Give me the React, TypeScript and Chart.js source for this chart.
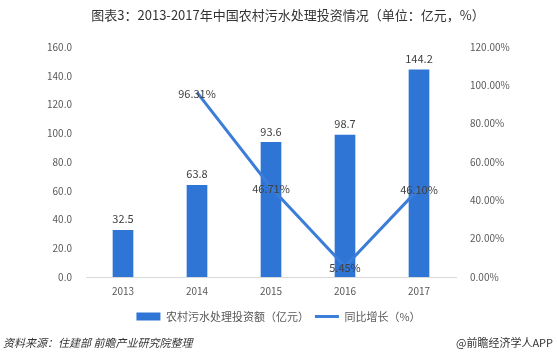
import React, { useEffect, useRef } from "react";
import { Chart, registerables } from "chart.js";

Chart.register(...registerables);

const years = ["2013", "2014", "2015", "2016", "2017"];
const investment = [32.5, 63.8, 93.6, 98.7, 144.2];
const growth: (number | null)[] = [null, 96.31, 46.71, 5.45, 46.1];
const leftTicks = [0, 20, 40, 60, 80, 100, 120, 140, 160];
const rightTicks = [0, 20, 40, 60, 80, 100, 120];

const titleText = "图表3：2013-2017年中国农村污水处理投资情况（单位：亿元，%）";
const sourceText = "资料来源：住建部 前瞻产业研究院整理";
const brandText = "@前瞻经济学人APP";
const barLabel = "农村污水处理投资额（亿元）";
const lineLabel = "同比增长（%）";

const FONT = "'Microsoft YaHei', 'Noto Sans CJK SC', sans-serif";
const BLUE = "#2e75d6";

const textPlugin = {
  id: "textPlugin",
  afterDatasetsDraw(chart: any) {
    const ctx = chart.ctx;
    ctx.save();
    ctx.font = `11px ${FONT}`;
    ctx.fillStyle = "#404040";
    ctx.textAlign = "center";
    ctx.textBaseline = "middle";
    const barMeta = chart.getDatasetMeta(0);
    barMeta.data.forEach((el: any, i: number) => {
      ctx.fillText(investment[i].toFixed(1), el.x, el.y - 11);
    });
    const lineMeta = chart.getDatasetMeta(1);
    lineMeta.data.forEach((el: any, i: number) => {
      const v = growth[i];
      if (v === null) return;
      ctx.fillText(v.toFixed(2) + "%", el.x, el.y + 1);
    });
    ctx.restore();
  },
  afterDraw(chart: any) {
    const ctx = chart.ctx;
    ctx.save();
    ctx.fillStyle = "#333333";
    ctx.textBaseline = "middle";
    ctx.textAlign = "center";
    ctx.font = `13px ${FONT}`;
    ctx.fillText(titleText, 288, 15);
    ctx.textAlign = "left";
    ctx.font = `italic 11px ${FONT}`;
    ctx.fillText(sourceText, 3, 343);
    ctx.textAlign = "right";
    ctx.font = `11px ${FONT}`;
    ctx.fillText(brandText, 553, 343);
    ctx.restore();
  },
};

export default function App() {
  const ref = useRef<HTMLCanvasElement>(null);
  useEffect(() => {
    if (!ref.current) return;
    const chart = new Chart(ref.current, {
      type: "bar",
      data: {
        labels: years,
        datasets: [
          {
            type: "bar",
            label: barLabel,
            data: investment,
            backgroundColor: BLUE,
            borderWidth: 0,
            barThickness: 20,
            yAxisID: "y",
            order: 2,
            pointStyle: "rect",
          } as any,
          {
            type: "line",
            label: lineLabel,
            data: growth,
            borderColor: "#3b7dd8",
            backgroundColor: "#3b7dd8",
            borderWidth: 3,
            pointRadius: 0,
            tension: 0,
            yAxisID: "y1",
            order: 1,
            pointStyle: "line",
          } as any,
        ],
      },
      options: {
        animation: false,
        responsive: false,
        maintainAspectRatio: false,
        layout: { padding: { top: 47, bottom: 24, left: 0, right: 0 } },
        plugins: {
          title: { display: false },
          tooltip: { enabled: false },
          legend: {
            position: "bottom",
            labels: {
              usePointStyle: true,
              pointStyleWidth: 24,
              boxHeight: 8,
              boxWidth: 24,
              color: "#595959",
              font: { size: 11, family: FONT },
              padding: 6,
              sort: (a: any, b: any) => a.datasetIndex - b.datasetIndex,
            },
          },
        },
        scales: {
          x: {
            grid: { display: false, drawTicks: false },
            border: { display: true, color: "#d9d9d9", width: 1 },
            ticks: { color: "#595959", font: { size: 10, family: FONT }, padding: 8 },
          },
          y: {
            position: "left",
            min: 0,
            max: 160,
            afterBuildTicks: (s: any) => {
              s.ticks = leftTicks.map((v) => ({ value: v }));
            },
            afterFit: (s: any) => {
              s.width = 86;
            },
            grid: { display: false, drawTicks: false },
            border: { display: false },
            ticks: {
              color: "#595959",
              font: { size: 10, family: FONT },
              padding: 14,
              callback: (v: any) => Number(v).toFixed(1),
            },
          },
          y1: {
            position: "right",
            min: 0,
            max: 120,
            afterBuildTicks: (s: any) => {
              s.ticks = rightTicks.map((v) => ({ value: v }));
            },
            afterFit: (s: any) => {
              s.width = 101;
            },
            grid: { display: false, drawTicks: false },
            border: { display: false },
            ticks: {
              color: "#595959",
              font: { size: 10, family: FONT },
              padding: 14,
              callback: (v: any) => Number(v).toFixed(2) + "%",
            },
          },
        },
      } as any,
      plugins: [textPlugin],
    });
    return () => chart.destroy();
  }, []);
  return (
    <div style={{ position: "absolute", left: 0, top: 0, width: 557, height: 356, background: "#fff" }}>
      <canvas ref={ref} width={557} height={356} style={{ display: "block", width: 557, height: 356 }} />
    </div>
  );
}
